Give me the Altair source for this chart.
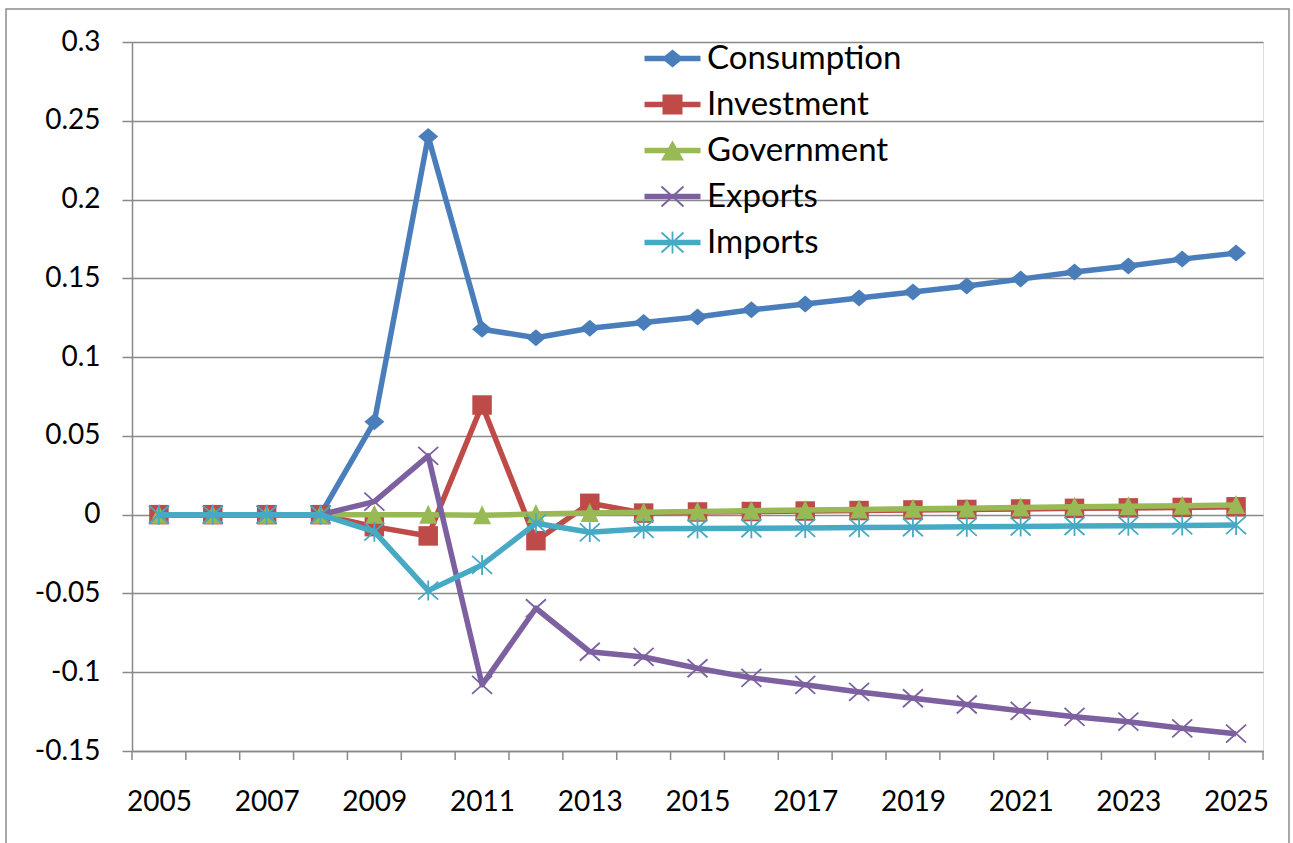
import altair as alt
import pandas as pd

years = list(range(2005, 2026))
series_names = ["Consumption", "Investment", "Government", "Exports", "Imports"]
series_colors = ["#4A7EBB", "#BE4B48", "#98B954", "#7D60A0", "#46AAC5"]

consumption = [0, 0, 0, 0, 0.059, 0.240, 0.1177, 0.1123, 0.1183, 0.1219, 0.1254, 0.130,
               0.1337, 0.1375, 0.1413, 0.1451, 0.1495, 0.154, 0.1578, 0.1622, 0.166]
investment = [0, 0, 0, 0, -0.0076, -0.0135, 0.0696, -0.0165, 0.0072, 0.001, 0.0017, 0.002,
              0.0023, 0.0026, 0.003, 0.0033, 0.0036, 0.004, 0.0043, 0.0046, 0.005]
government = [0, 0, 0, 0, 0.0, 0.0, -0.0004, 0.0004, 0.001, 0.0015, 0.002, 0.0025,
              0.003, 0.0033, 0.0037, 0.004, 0.0045, 0.005, 0.0053, 0.0057, 0.0061]
exports_ = [0, 0, 0, 0, 0.0083, 0.0373, -0.108, -0.0594, -0.087, -0.0903, -0.0975, -0.1036,
            -0.108, -0.1125, -0.1165, -0.1205, -0.1245, -0.1283, -0.1314, -0.1356, -0.1390]
imports_ = [0, 0, 0, 0, -0.0108, -0.0482, -0.0319, -0.0055, -0.0112, -0.009, -0.0088, -0.0086,
            -0.0084, -0.0082, -0.008, -0.0077, -0.0075, -0.0072, -0.007, -0.0068, -0.0066]

y_ticks = [-0.15, -0.1, -0.05, 0, 0.05, 0.1, 0.15, 0.2, 0.25, 0.3]
x_labels = list(range(2005, 2026, 2))

values = [consumption, investment, government, exports_, imports_]
rows = []
for name, vals in zip(series_names, values):
    for yr, v in zip(years, vals):
        rows.append({"year": yr, "value": v, "series": name})
df = pd.DataFrame(rows)
bounds = pd.DataFrame({"year": [y - 0.5 for y in years] + [years[-1] + 0.5]})

GRAY = "#898989"
FONT = "Lato"


def poly(points):
    # orient consistently (positive signed area) so filled sub-paths union
    area = 0
    for i in range(len(points)):
        x1, y1 = points[i]
        x2, y2 = points[(i + 1) % len(points)]
        area += x1 * y2 - x2 * y1
    if area < 0:
        points = points[::-1]
    return "M" + "L".join(f"{x:.3f},{y:.3f}" for x, y in points) + "Z"


def seg(x1, y1, x2, y2, hw):
    dx, dy = x2 - x1, y2 - y1
    L = (dx * dx + dy * dy) ** 0.5
    nx, ny = -dy / L * hw, dx / L * hw
    return poly([(x1 + nx, y1 + ny), (x2 + nx, y2 + ny), (x2 - nx, y2 - ny), (x1 - nx, y1 - ny)])


leg_line = seg(-2.8, 0, 2.8, 0, 0.27)
legend_paths = [
    leg_line + poly([(0, -0.9), (1.1, 0), (0, 0.9), (-1.1, 0)]),
    leg_line + poly([(-1, -1), (1, -1), (1, 1), (-1, 1)]),
    leg_line + poly([(0, -1), (1.15, 1), (-1.15, 1)]),
    leg_line + seg(-1.1, -1, 1.1, 1, 0.09) + seg(-1.1, 1, 1.1, -1, 0.09),
    leg_line + seg(-1.1, -1, 1.1, 1, 0.09) + seg(-1.1, 1, 1.1, -1, 0.09) + seg(0, -1.1, 0, 1.1, 0.09),
]

marker_specs = [
    dict(shape="M0,-0.85L1,0L0,0.85L-1,0Z", filled=True, size=400),
    dict(shape="square", filled=True, size=380),
    dict(shape="M0,-1.05L0.95,0.95L-0.95,0.95Z", filled=True, size=361),
    dict(shape="M-1,-0.9L1,0.9M-1,0.9L1,-0.9", filled=False, size=400, strokeWidth=1.8),
    dict(shape="M-1,-0.9L1,0.9M-1,0.9L1,-0.9M0,-1L0,1", filled=False, size=400, strokeWidth=1.8),
]

x_enc = alt.X("year:Q",
              scale=alt.Scale(domain=[2004.5, 2025.5], nice=False, zero=False),
              axis=alt.Axis(values=x_labels, format="d", ticks=False, grid=False,
                            domainColor=GRAY, domainWidth=1.5, labelFont=FONT,
                            labelFontSize=28, labelColor="#000000", labelPadding=37,
                            title=None, labelFlush=False, labelOverlap=False))
y_enc = alt.Y("value:Q",
              scale=alt.Scale(domain=[-0.15, 0.3], nice=False, zero=False),
              axis=alt.Axis(values=y_ticks,
                            labelExpr="replace(format(datum.value, '~g'), '\u2212', '-')",
                            tickSize=10, tickColor=GRAY, tickWidth=1.5,
                            grid=True, gridColor=GRAY, gridWidth=1.5,
                            domainColor=GRAY, domainWidth=1.5, labelFont=FONT,
                            labelFontSize=28, labelColor="#000000", labelPadding=22,
                            title=None, labelFlush=False, labelOverlap=False))

layers = []
border = alt.Chart(alt.Data(values=[{"k": 1}])).mark_rect(
    fillOpacity=0, stroke="#8C8C8C", strokeWidth=1.5
).encode(x=alt.value(-126), x2=alt.value(1157), y=alt.value(-33), y2=alt.value(830))
layers.append(border)

base = alt.Chart(df)
for name, color, mk in zip(series_names, series_colors, marker_specs):
    sub = base.transform_filter(alt.datum.series == name)
    layers.append(sub.mark_line(color=color, strokeWidth=5.5, strokeJoin="round").encode(x=x_enc, y=y_enc))
    layers.append(sub.mark_point(color=color, opacity=1, **mk).encode(x=x_enc, y=y_enc))

ticks = alt.Chart(bounds).mark_rule(color=GRAY, strokeWidth=1.5).encode(
    x=x_enc, y=alt.value(709), y2=alt.value(718))
layers.append(ticks)

leg_props = dict(title=None, orient="none", legendX=524, legendY=0, padding=0,
                 symbolSize=400, symbolOpacity=1, symbolStrokeWidth=0,
                 labelFont=FONT, labelFontSize=33, labelColor="#000000",
                 labelOffset=18, labelLimit=500, rowPadding=12)
legend_layer = base.mark_point(filled=True, opacity=0).encode(
    x=x_enc, y=y_enc,
    color=alt.Color("series:N", sort=series_names,
                    scale=alt.Scale(domain=series_names, range=series_colors),
                    legend=alt.Legend(**leg_props)),
    shape=alt.Shape("series:N", sort=series_names,
                    scale=alt.Scale(domain=series_names, range=legend_paths),
                    legend=alt.Legend(**leg_props)),
)
layers.append(legend_layer)

chart = alt.layer(*layers).properties(
    width=1131, height=709,
    autosize=alt.AutoSizeParams(type="none"),
    padding={"left": 132, "top": 42, "right": 30, "bottom": 92},
    background="#FFFFFF",
).configure_view(stroke=None).configure(font=FONT)

chart.save("out.html", embed_options={"renderer": "svg", "actions": False})
